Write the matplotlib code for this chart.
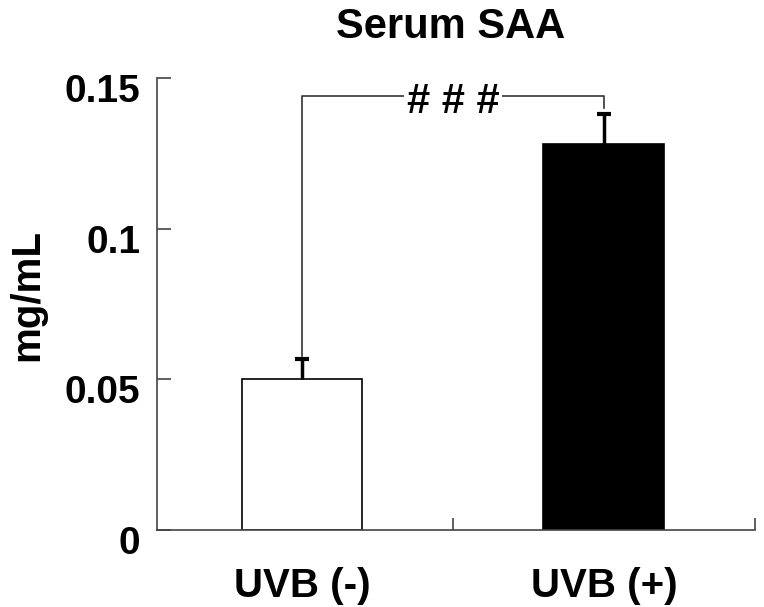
import numpy as np
import matplotlib.pyplot as plt
import matplotlib.transforms as mtransforms
from matplotlib.ticker import FixedLocator

plt.rcParams['font.family'] = ['Liberation Sans', 'DejaVu Sans']
plt.rcParams['font.weight'] = 'bold'

groups = ['UVB (-)', 'UVB (+)']
means = [0.050, 0.128]
sems = [0.0066, 0.010]
colors = ['white', 'black']
yticks = [0, 0.05, 0.1, 0.15]
ytick_labels = ['0', '0.05', '0.1', '0.15']
sig_label = '# # #'

fig = plt.figure(figsize=(7.64, 6.07), dpi=100)
ax = fig.add_axes([0.2055, 0.1269, 0.7825, 0.7446])

x = np.arange(len(groups))
ax.bar(x, means, width=0.4, color=colors, edgecolor='black', linewidth=1.2, zorder=2)
# upper-only error bars
tops = np.array(means) + np.array(sems)
ax.vlines(x, means, tops, color='black', linewidth=2.5, zorder=3)
ax.plot(x, tops, linestyle='none', marker='_', markersize=10, markeredgewidth=3,
        color='black', zorder=3)

# significance bracket
top = max(means) + max(sems) + 0.006
lefty = means[0] + sems[0] + 0.0012
righty = means[1] + sems[1] + 0.0022
ax.plot([x[0], x[0], x[1], x[1]], [lefty, top, top, righty],
        color='#333333', linewidth=1.2, zorder=1)
ax.text((x[0] + x[1]) / 2, top - 0.002, sig_label, ha='center', va='center',
        fontsize=30, fontweight='bold',
        bbox=dict(facecolor='white', edgecolor='none', pad=2), zorder=4)

ax.set_xlim(-0.48, 1.5)
ax.set_ylim(0, 0.15)
ax.set_yticks(yticks)
ax.set_yticklabels(ytick_labels, fontsize=28, fontweight='bold')
ax.set_xticks(x)
ax.set_xticklabels(groups, fontsize=29, fontweight='bold')
ax.xaxis.set_minor_locator(FixedLocator([0.5, 1.5]))

ax.tick_params(axis='y', direction='in', length=10, width=1.2, color='#444444', pad=12)
ax.tick_params(axis='x', which='major', length=0, pad=27)
ax.tick_params(axis='x', which='minor', direction='in', length=9, width=1.2, color='#444444')

for lab in ax.get_yticklabels():
    lab.set_transform(lab.get_transform() + mtransforms.ScaledTranslation(0, -0.1, fig.dpi_scale_trans))

for s in ['top', 'right']:
    ax.spines[s].set_visible(False)
for s in ['left', 'bottom']:
    ax.spines[s].set_color('#444444')
    ax.spines[s].set_linewidth(1.2)

ax.set_ylabel('mg/mL', fontsize=29, fontweight='bold')
ax.yaxis.set_label_coords(-0.185, 0.52)
fig.text(0.59, 0.955, 'Serum SAA', ha='center', va='center', fontsize=30, fontweight='bold')

fig.savefig('out.png', dpi=100)
